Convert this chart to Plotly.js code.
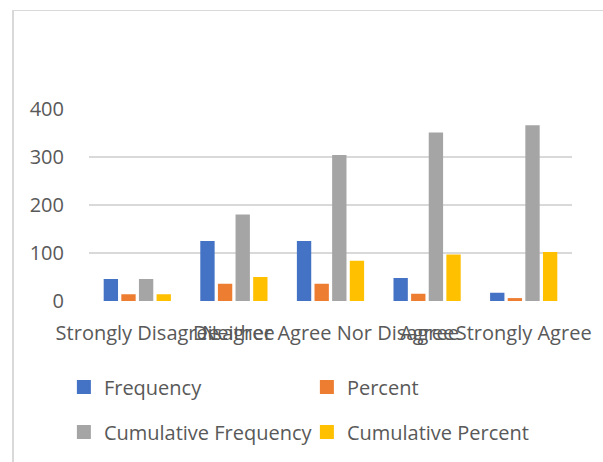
<!DOCTYPE html>
<html>
<head>
<meta charset="utf-8">
<script src="https://cdn.plot.ly/plotly-3.0.1.min.js"></script>
<style>
  html, body { margin: 0; padding: 0; background: #fff; }
  #wrap { position: relative; width: 603px; height: 462px; }
  #chart { width: 603px; height: 462px; }
  #frame { position: absolute; left: 12px; top: 10px; right: 0; bottom: 0;
           border-left: 2px solid #d9d9d9; border-top: 1px solid #d9d9d9; pointer-events: none; }
</style>
</head>
<body>
<div id="wrap">
  <div id="chart"></div>
  <div id="frame"></div>
</div>
<script>
const categories = ["Strongly Disagree", "Disagree", "Neither Agree Nor Disagree", "Agree", "Strongly Agree"];
const frequency = [44, 123, 123, 46, 15];
const percent = [12, 34, 34, 13, 4];
const cumulativeFrequency = [44, 178, 302, 349, 364];
const cumulativePercent = [12, 48, 82, 95, 100];
const yTicks = [0, 100, 200, 300, 400];

const FONT = "'Open Sans', 'Noto Sans', sans-serif";
const TXT = "#595959";

const traces = [
  { name: "Frequency", y: frequency, color: "#4472C4", legend: "legend" },
  { name: "Percent", y: percent, color: "#ED7D31", legend: "legend" },
  { name: "Cumulative Frequency", y: cumulativeFrequency, color: "#A5A5A5", legend: "legend2" },
  { name: "Cumulative Percent", y: cumulativePercent, color: "#FFC000", legend: "legend2" }
].map(s => ({
  type: "bar",
  name: s.name,
  x: categories,
  y: s.y,
  legend: s.legend,
  marker: { color: s.color, line: { color: s.color, width: 2 } },
  hoverinfo: "skip"
}));

const legendCommon = {
  orientation: "h",
  xref: "paper", yref: "paper",
  x: -0.052, xanchor: "left", yanchor: "middle",
  entrywidth: 198, entrywidthmode: "pixels",
  font: { family: FONT, size: 20, color: TXT },
  bgcolor: "rgba(0,0,0,0)", borderwidth: 0,
  itemclick: false, itemdoubleclick: false
};

const layout = {
  width: 603, height: 462,
  margin: { l: 89, r: 31, t: 109, b: 160 },
  paper_bgcolor: "#fff", plot_bgcolor: "#fff",
  barmode: "group", bargap: 0.27, bargroupgap: 0.3,
  font: { family: FONT, size: 20, color: TXT },
  showlegend: true,
  legend: Object.assign({}, legendCommon, { y: (302 - 387) / 193 }),
  legend2: Object.assign({}, legendCommon, { y: (302 - 432) / 193 }),
  xaxis: {
    type: "category", tickangle: 0, showgrid: false, zeroline: false, showline: false,
    ticks: "", ticklabelstandoff: 18,
    tickfont: { family: FONT, size: 20, color: TXT }
  },
  yaxis: {
    range: [0, 400], tickvals: yTicks, ticktext: yTicks.map(String),
    showgrid: true, gridcolor: "#d9d9d9", gridwidth: 1.5,
    zeroline: false, showline: false, ticks: "", ticklabelstandoff: 24,
    tickfont: { family: FONT, size: 20, color: TXT }
  }
};

Plotly.newPlot("chart", traces, layout, { displayModeBar: false, staticPlot: true });
</script>
</body>
</html>
